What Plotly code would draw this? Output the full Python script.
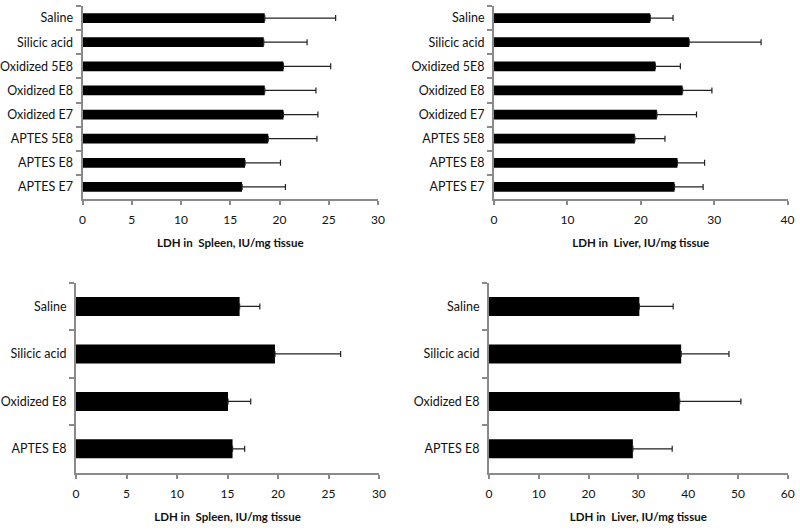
import plotly.graph_objects as go

# ---- data ----
cats_top = ["Saline", "Silicic acid", "Oxidized 5E8", "Oxidized E8",
            "Oxidized E7", "APTES 5E8", "APTES E8", "APTES E7"]
spleen_top = [18.5, 18.4, 20.4, 18.5, 20.4, 18.85, 16.5, 16.2]
spleen_top_err = [7.2, 4.4, 4.8, 5.2, 3.5, 4.95, 3.6, 4.4]
liver_top = [21.3, 26.6, 22.0, 25.7, 22.2, 19.2, 25.0, 24.6]
liver_top_err = [3.1, 9.8, 3.4, 4.0, 5.4, 4.1, 3.7, 3.9]

cats_bot = ["Saline", "Silicic acid", "Oxidized E8", "APTES E8"]
spleen_bot = [16.2, 19.7, 15.05, 15.5]
spleen_bot_err = [2.0, 6.5, 2.25, 1.2]
liver_bot = [30.2, 38.6, 38.3, 28.9]
liver_bot_err = [6.8, 9.6, 12.3, 7.9]

spleen_title = "LDH in  Spleen, IU/mg tissue"
liver_title = "LDH in  Liver, IU/mg tissue"

W, H = 800, 531
FONT = "Lato, Open Sans, sans-serif"
AXC = "#8a8a8a"

def px_x(a, b):
    return [a / W, b / W]

def px_y(top, bottom):
    return [1 - bottom / H, 1 - top / H]

panels = [
    dict(cats=cats_top, vals=spleen_top, err=spleen_top_err, rng=[0, 30], dt=5,
         title=spleen_title, xd=px_x(82.5, 378), yd=px_y(6, 199)),
    dict(cats=cats_top, vals=liver_top, err=liver_top_err, rng=[0, 40], dt=10,
         title=liver_title, xd=px_x(494, 787.5), yd=px_y(6, 199)),
    dict(cats=cats_bot, vals=spleen_bot, err=spleen_bot_err, rng=[0, 30], dt=5,
         title=spleen_title, xd=px_x(76, 379), yd=px_y(282.7, 472.6)),
    dict(cats=cats_bot, vals=liver_bot, err=liver_bot_err, rng=[0, 60], dt=10,
         title=liver_title, xd=px_x(489, 787.7), yd=px_y(282.7, 472.6)),
]

fig = go.Figure()
layout = dict(
    width=W, height=H, margin=dict(l=0, r=0, t=0, b=0, pad=0, autoexpand=False),
    paper_bgcolor="white", plot_bgcolor="white", showlegend=False,
    font=dict(family=FONT, size=12, color="#111111"),
    bargap=0.6,
)

for i, p in enumerate(panels, start=1):
    xa = "x" if i == 1 else f"x{i}"
    ya = "y" if i == 1 else f"y{i}"
    fig.add_trace(go.Bar(
        x=p["vals"], y=p["cats"], orientation="h",
        marker=dict(color="black", line=dict(width=0)),
        error_x=dict(type="data", array=p["err"], arrayminus=[0] * len(p["err"]),
                     symmetric=False, color="#222222", thickness=1.2, width=3),
        xaxis=xa, yaxis=ya, hoverinfo="skip",
    ))
    xkey = "xaxis" if i == 1 else f"xaxis{i}"
    ykey = "yaxis" if i == 1 else f"yaxis{i}"
    layout[xkey] = dict(
        domain=p["xd"], anchor=ya, range=p["rng"], dtick=p["dt"], tick0=0,
        automargin=False,
        showgrid=False, zeroline=False, showline=True, linecolor=AXC, linewidth=2,
        ticks="outside", ticklen=4, tickcolor=AXC, tickwidth=2,
        ticklabelstandoff=5,
        tickfont=dict(family=FONT, size=12, color="#111111"),
        title=dict(text="<b>" + p["title"] + "</b>",
                   font=dict(family=FONT, size=11.5, color="#111111"), standoff=13),
    )
    layout[ykey] = dict(
        domain=p["yd"], anchor=xa, type="category", autorange="reversed",
        automargin=False,
        showgrid=False, zeroline=False, showline=True, linecolor=AXC, linewidth=2,
        ticks="outside", ticklen=5, tickcolor=AXC, tickwidth=2, tickson="boundaries",
        ticklabelstandoff=5,
        tickfont=dict(family=FONT, size=12.5, color="#111111"),
    )

fig.update_layout(**layout)
fig.write_html(
    "out.html",
    config={"displayModeBar": False, "staticPlot": True},
    post_script="document.body.style.margin='0';document.body.style.padding='0';"
                "document.body.style.overflow='hidden';",
)
